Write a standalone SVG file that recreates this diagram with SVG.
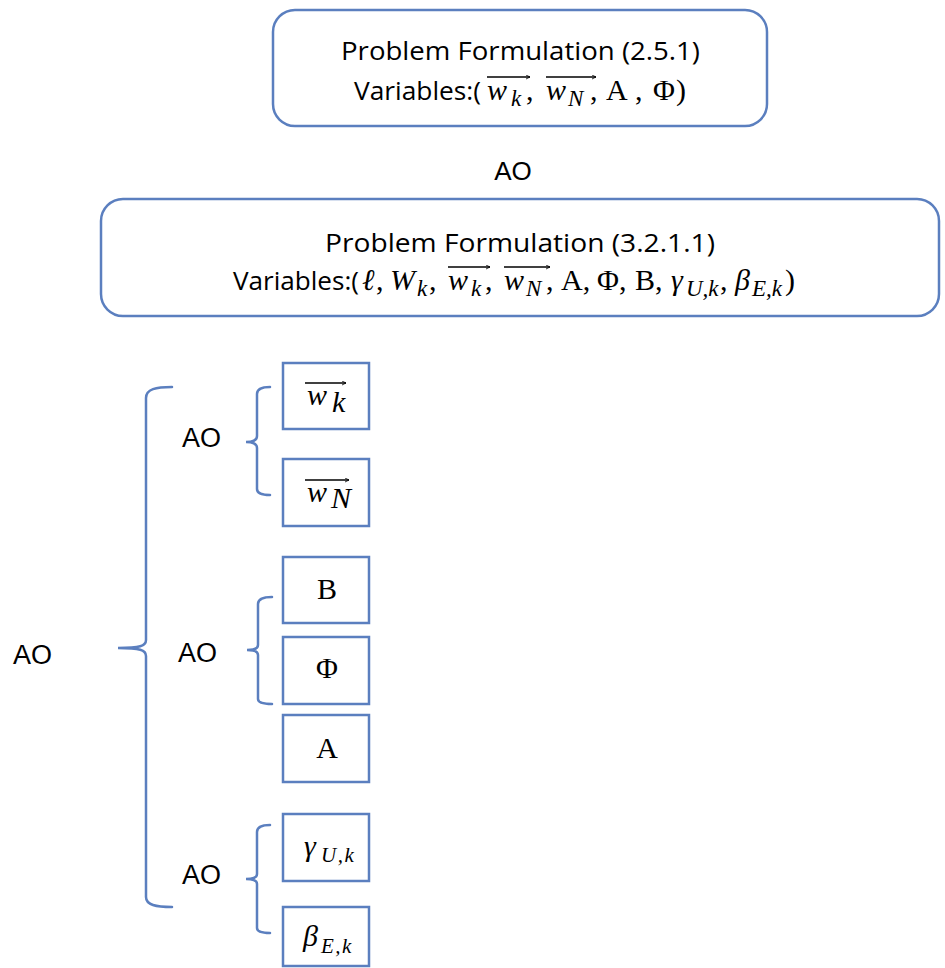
<svg xmlns="http://www.w3.org/2000/svg" width="945" height="968" viewBox="0 0 945 968">
  <style>
    .frame { fill: #ffffff; stroke: #5b7fbf; stroke-width: 2.5; }
    .cell { fill: #ffffff; stroke: #5b7fbf; stroke-width: 2.5; }
    .brace { fill: none; stroke: #5b7fbf; stroke-width: 2.5; stroke-linecap: round; }
    .sans { font-family: "Liberation Sans", Arial, sans-serif; fill: #000; }
    .head { font-family: "Open Sans", "Liberation Sans", sans-serif; font-size: 26px; fill: #000; }
    .math { font-family: "Liberation Serif", "DejaVu Serif", serif; font-size: 30px; fill: #000; }
    .it { font-style: italic; }
    .sub { font-size: 23px; }
    .csub { font-size: 21px; letter-spacing: 1.5px; }
    .vec { fill: none; stroke: #000; stroke-width: 1.6; }
  </style>
  <defs>
    <marker id="vh" viewBox="0 0 10 10" refX="9" refY="5" markerWidth="5" markerHeight="5" orient="auto" markerUnits="userSpaceOnUse">
      <path d="M1,1 L9,5 L1,9" fill="none" stroke="#000" stroke-width="1.6"/>
    </marker>
  </defs>
  <rect width="945" height="968" fill="#ffffff"/>

  <!-- original formulation -->
  <g id="formulation-2-5-1">
    <rect class="frame" x="273" y="10" width="494" height="116" rx="22"/>
    <text class="head" x="341" y="60" textLength="359" lengthAdjust="spacingAndGlyphs">Problem Formulation (2.5.1)</text>
    <text class="head" x="354" y="100" textLength="127" lengthAdjust="spacingAndGlyphs">Variables:(</text>
    <text class="math it" x="487" y="100" font-size="32">w</text>
    <text class="math it sub" x="511" y="106">k</text>
    <path class="vec" d="M487,77 H530" marker-end="url(#vh)"/>
    <text class="math" x="526" y="100">,</text>
    <text class="math it" x="546" y="100" font-size="32">w</text>
    <text class="math it sub" x="568" y="106">N</text>
    <path class="vec" d="M546,77 H596" marker-end="url(#vh)"/>
    <text class="math" x="590" y="100">,</text>
    <text class="math" x="606" y="100">A</text>
    <text class="math" x="635" y="100">,</text>
    <text class="math" x="653" y="100">Φ</text>
    <text class="math" x="676" y="100">)</text>
  </g>

  <text class="sans" x="513" y="180" font-size="26" text-anchor="middle">AO</text>

  <!-- extended formulation -->
  <g id="formulation-3-2-1-1">
    <rect class="frame" x="101" y="199" width="838" height="117" rx="22"/>
    <text class="head" x="325" y="252" textLength="390" lengthAdjust="spacingAndGlyphs">Problem Formulation (3.2.1.1)</text>
    <text class="head" x="233" y="290" textLength="126" lengthAdjust="spacingAndGlyphs">Variables:(</text>
    <text class="math it" x="362" y="290">ℓ</text>
    <text class="math" x="376" y="290">,</text>
    <text class="math it" x="390" y="290">W</text>
    <text class="math it sub" x="417" y="296">k</text>
    <text class="math" x="429" y="290">,</text>
    <text class="math it" x="448" y="290" font-size="32">w</text>
    <text class="math it sub" x="471" y="296">k</text>
    <path class="vec" d="M448,267 H490" marker-end="url(#vh)"/>
    <text class="math" x="485" y="290">,</text>
    <text class="math it" x="504" y="290" font-size="32">w</text>
    <text class="math it sub" x="526" y="296">N</text>
    <path class="vec" d="M504,267 H550" marker-end="url(#vh)"/>
    <text class="math" x="546" y="290">,</text>
    <text class="math" x="561" y="290">A,</text>
    <text class="math" x="597" y="290">Φ,</text>
    <text class="math" x="635" y="290">B,</text>
    <text class="math it" x="671" y="290">γ</text>
    <text class="math it sub" x="686" y="296">U,k</text>
    <text class="math" x="720" y="290">,</text>
    <text class="math it" x="735" y="290">β</text>
    <text class="math it sub" x="752" y="296">E,k</text>
    <text class="math" x="785" y="290">)</text>
  </g>

  <!-- variable cells -->
  <g id="cell-wk">
    <rect class="cell" x="283" y="363" width="86" height="66"/>
    <text class="math it" x="307" y="405" font-size="34">w</text>
    <text class="math it" x="332" y="412" font-size="22">k</text>
    <path class="vec" d="M305,383 H346" marker-end="url(#vh)"/>
  </g>
  <g id="cell-wN">
    <rect class="cell" x="283" y="459" width="86" height="67"/>
    <text class="math it" x="307" y="502" font-size="34">w</text>
    <text class="math it" x="331" y="508" font-size="22">N</text>
    <path class="vec" d="M305,480 H349" marker-end="url(#vh)"/>
  </g>
  <g id="cell-B">
    <rect class="cell" x="283" y="557" width="86" height="66"/>
    <text class="math" x="327" y="599" text-anchor="middle">B</text>
  </g>
  <g id="cell-Phi">
    <rect class="cell" x="283" y="637" width="86" height="67"/>
    <text class="math" x="327" y="678" text-anchor="middle">Φ</text>
  </g>
  <g id="cell-A">
    <rect class="cell" x="283" y="715" width="86" height="67"/>
    <text class="math" x="327" y="758" text-anchor="middle">A</text>
  </g>
  <g id="cell-gamma">
    <rect class="cell" x="283" y="814" width="86" height="67"/>
    <text class="math it" x="304" y="856" font-size="34">γ</text>
    <text class="math it csub" x="321" y="862">U,k</text>
  </g>
  <g id="cell-beta">
    <rect class="cell" x="283" y="907" width="86" height="59"/>
    <text class="math it" x="303" y="946" font-size="34">β</text>
    <text class="math it csub" x="321" y="953">E,k</text>
  </g>

  <!-- AO labels -->
  <g id="ao-outer"><text class="sans" x="13" y="664" font-size="27">AO</text></g>
  <g id="ao-w"><text class="sans" x="182" y="447" font-size="27">AO</text></g>
  <g id="ao-bphi"><text class="sans" x="178" y="662" font-size="27">AO</text></g>
  <g id="ao-gb"><text class="sans" x="182" y="884" font-size="27">AO</text></g>

  <!-- braces grouping the alternating blocks -->
  <g id="connectors">
    <path class="brace" d="M172,387 C156,387 146,389 146,398 V640 C146,646 140,648 118,648 C140,648 146,650 146,656 V897 C146,905 156,907 172,907"/>
    <path class="brace" d="M270,387 C262,387 257,389 257,394 V436 C257,440 254,442 246,442 C254,442 257,444 257,448 V489 C257,493 262,495 270,495"/>
    <path class="brace" d="M272,597 C264,597 258,599 258,604 V645 C258,648 255,650 247,650 C255,650 258,652 258,655 V699 C258,703 264,704 272,704"/>
    <path class="brace" d="M270,825 C262,825 257,827 257,832 V874 C257,877 254,879 246,879 C254,879 257,881 257,884 V928 C257,932 262,933 270,933"/>
  </g>
</svg>
